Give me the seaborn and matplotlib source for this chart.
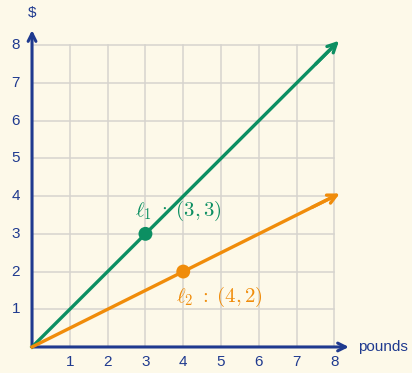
import seaborn as sns
import matplotlib.pyplot as plt
import pandas as pd

plt.rcParams['mathtext.fontset'] = 'cm'
plt.rcParams['font.family'] = ['Liberation Sans', 'DejaVu Sans']

# data
ticks = [1, 2, 3, 4, 5, 6, 7, 8]
line1_x = [0, 8]
line1_y = [0, 8]
line2_x = [0, 8]
line2_y = [0, 4]
point1 = (3, 3)
point2 = (4, 2)
label1 = r'$\ell_1\;:\;(3, 3)$'
label2 = r'$\ell_2\;:\;(4, 2)$'

BG = '#fdf9e9'
BLUE = '#1f3a8f'
GREEN = '#0c8f62'
ORANGE = '#f08c0a'
GRID = '#d6d4ce'

fig = plt.figure(figsize=(4.12, 3.73), dpi=100, facecolor=BG)
ax = fig.add_axes([0, 0, 1, 1])
ax.set_facecolor(BG)
ax.axis('off')

### grid
for t in ticks:
    ax.plot([t, t], [0, 8], color=GRID, lw=1.1, zorder=1)
    ax.plot([0, 8], [t, t], color=GRID, lw=1.1, zorder=1)

### axes with arrows
ax.annotate('', xy=(8.38, 0), xytext=(0, 0),
            arrowprops=dict(arrowstyle='->', color=BLUE, lw=2.2, shrinkA=0, shrinkB=0,
                            mutation_scale=14), zorder=3)
ax.annotate('', xy=(0, 8.4), xytext=(0, 0),
            arrowprops=dict(arrowstyle='->', color=BLUE, lw=2.2, shrinkA=0, shrinkB=0,
                            mutation_scale=14), zorder=3)
for t in ticks:
    ax.text(t, -0.41, str(t), ha='center', va='center', color=BLUE, fontsize=11)
    ax.text(-0.43, t, str(t), ha='center', va='center', color=BLUE, fontsize=11)
ax.text(0, 8.86, '$', ha='center', va='center', color=BLUE, fontsize=11)
ax.text(8.62, 0.0, 'pounds', ha='left', va='center', color=BLUE, fontsize=11)

### lines
df1 = pd.DataFrame({'x': line1_x, 'y': line1_y})
df2 = pd.DataFrame({'x': line2_x, 'y': line2_y})
sns.lineplot(data=df1, x='x', y='y', ax=ax, color=GREEN, lw=2.4, zorder=4)
sns.lineplot(data=df2, x='x', y='y', ax=ax, color=ORANGE, lw=2.4, zorder=4)
ax.annotate('', xy=(line1_x[1] + 0.12, line1_y[1] + 0.12), xytext=(line1_x[1] - 0.5, line1_y[1] - 0.5),
            arrowprops=dict(arrowstyle='->', color=GREEN, lw=2.4, shrinkA=0, shrinkB=0,
                            mutation_scale=16), zorder=4)
ax.annotate('', xy=(line2_x[1] + 0.14, line2_y[1] + 0.07), xytext=(line2_x[1] - 0.6, line2_y[1] - 0.3),
            arrowprops=dict(arrowstyle='->', color=ORANGE, lw=2.4, shrinkA=0, shrinkB=0,
                            mutation_scale=16), zorder=4)

sns.scatterplot(x=[point1[0]], y=[point1[1]], ax=ax, color=GREEN, s=100, edgecolor='none', zorder=5)
sns.scatterplot(x=[point2[0]], y=[point2[1]], ax=ax, color=ORANGE, s=100, edgecolor='none', zorder=5)

ax.text(3.86, 3.62, label1, ha='center', va='center', color=GREEN, fontsize=15)
ax.text(4.97, 1.34, label2, ha='center', va='center', color=ORANGE, fontsize=15)

ax.set_xlim(-0.847, 10.05)
ax.set_ylim(-0.69, 9.20)
fig.savefig('out.png', dpi=100, facecolor=BG)
